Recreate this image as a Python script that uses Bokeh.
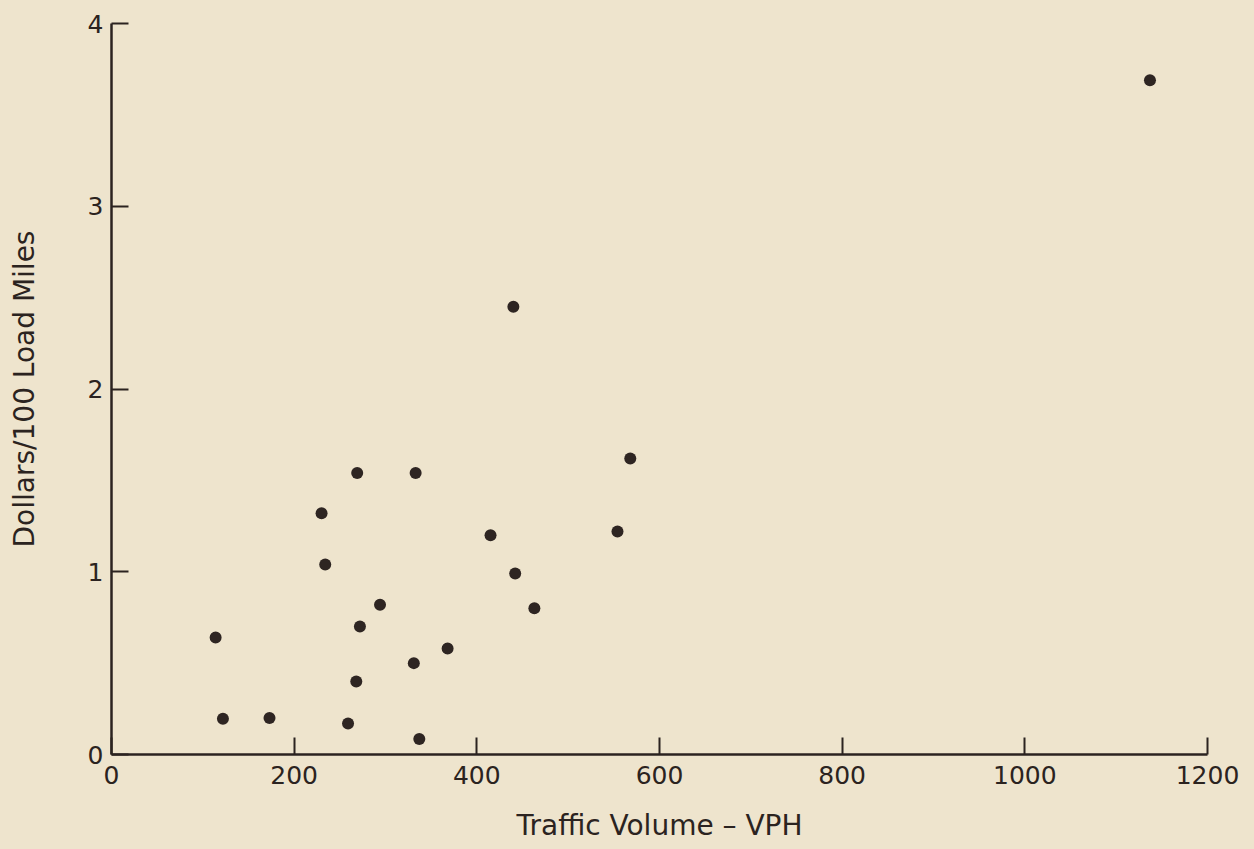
from bokeh.plotting import figure
from bokeh.models import Range1d, FixedTicker
from bokeh.embed import file_html
from bokeh.resources import INLINE

# Traffic volume (vehicles per hour) and cost (dollars per 100 load miles)
traffic_vph = [114, 122, 173, 230, 234, 259, 268, 269, 272, 294, 331,
               333, 337, 368, 415, 440, 442, 463, 554, 568, 1137]
dollars_per_100 = [0.64, 0.195, 0.20, 1.32, 1.04, 0.17, 0.40, 1.54, 0.70, 0.82, 0.50,
                   1.54, 0.085, 0.58, 1.20, 2.45, 0.99, 0.80, 1.22, 1.62, 3.69]

x_ticks = [0, 200, 400, 600, 800, 1000, 1200]
y_ticks = [0, 1, 2, 3, 4]

PAPER = "#eee4cd"
INK = "#2b2320"
FONT = "DejaVu Sans"

p = figure(width=1254, height=849, output_backend="svg", toolbar_location=None,
           x_range=Range1d(0, 1200), y_range=Range1d(0, 4),
           min_border_left=111, min_border_right=47,
           min_border_top=23, min_border_bottom=95)

# one paper colour behind the whole canvas (no seam at the frame edge)
p.background_fill_color = None
p.border_fill_color = None
p.styles = {"background-color": PAPER}
p.outline_line_color = None
p.grid.visible = False

p.scatter(traffic_vph, dollars_per_100, size=12, fill_color="#2e2522",
          line_color=None, marker="circle")

for ax in (p.xaxis[0], p.yaxis[0]):
    ax.axis_line_color = INK
    ax.axis_line_width = 2.5
    ax.major_tick_line_color = INK
    ax.major_tick_line_width = 2
    ax.major_tick_in = 17
    ax.major_tick_out = 0
    ax.minor_tick_line_color = None
    ax.major_label_text_font = FONT
    ax.major_label_text_font_size = "25px"
    ax.major_label_text_color = INK
    ax.axis_label_text_font = FONT
    ax.axis_label_text_font_size = "28px"
    ax.axis_label_text_font_style = "normal"
    ax.axis_label_text_color = INK

p.xaxis.ticker = FixedTicker(ticks=x_ticks)
p.yaxis.ticker = FixedTicker(ticks=y_ticks)
p.xaxis.major_label_standoff = 11
p.yaxis.major_label_standoff = 8
p.xaxis.axis_label = "Traffic Volume \u2013 VPH"
p.yaxis.axis_label = "Dollars/100 Load Miles"
p.xaxis.axis_label_standoff = 22
p.yaxis.axis_label_standoff = 44

open("out.html", "w").write(file_html(p, INLINE))
